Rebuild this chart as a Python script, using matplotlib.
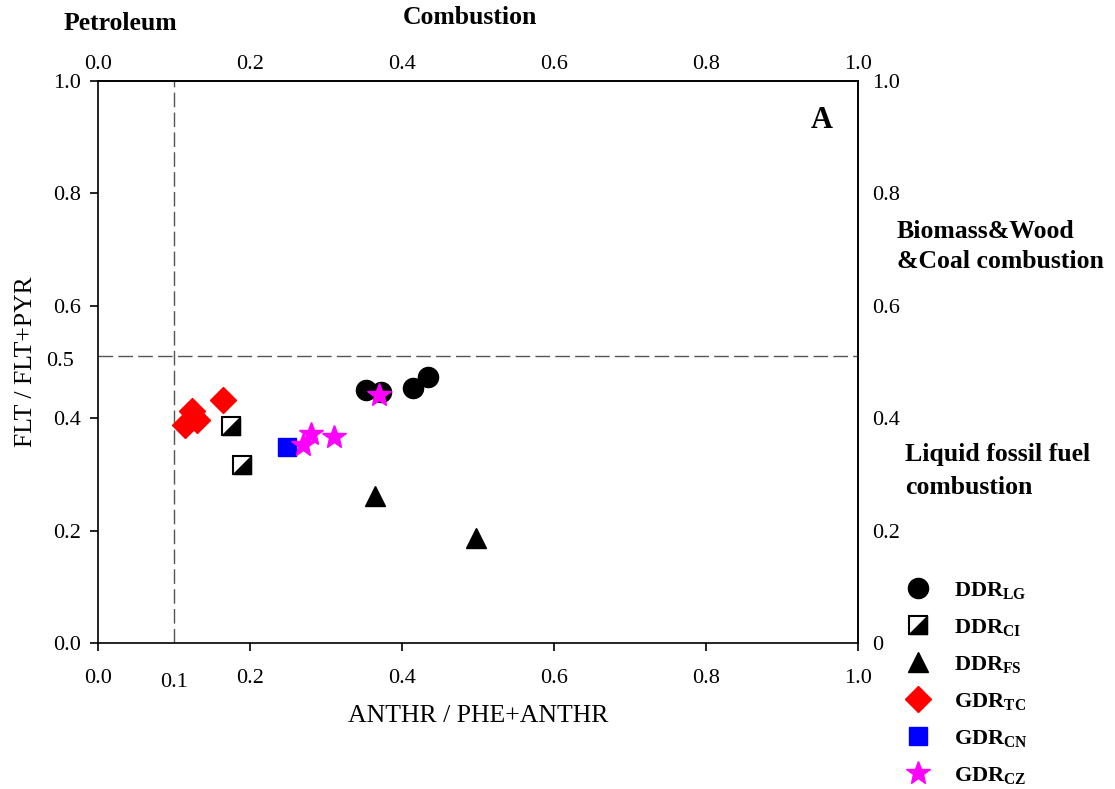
import matplotlib
matplotlib.use("Agg")
import matplotlib.pyplot as plt
from matplotlib.lines import Line2D
from matplotlib.legend_handler import HandlerTuple

plt.rcParams['font.family'] = ['Liberation Serif', 'DejaVu Serif']
plt.rcParams['mathtext.fontset'] = 'custom'
plt.rcParams['mathtext.rm'] = 'Liberation Serif'
plt.rcParams['mathtext.bf'] = 'Liberation Serif:bold'
plt.rcParams['mathtext.it'] = 'Liberation Serif:italic'

# ---------------- data ----------------
lg_x = [0.352, 0.373, 0.414, 0.434]
lg_y = [0.451, 0.446, 0.454, 0.473]

ci_x = [0.175, 0.190]
ci_y = [0.386, 0.317]

fs_x = [0.364, 0.497]
fs_y = [0.262, 0.186]

tc_x = [0.114, 0.130, 0.124, 0.164]
tc_y = [0.388, 0.397, 0.412, 0.432]

cn_x = [0.249]
cn_y = [0.348]

cz_x = [0.270, 0.280, 0.311, 0.370]
cz_y = [0.352, 0.372, 0.366, 0.441]

series_labels = [r'$\mathbf{DDR}_{\mathbf{LG}}$', r'$\mathbf{DDR}_{\mathbf{CI}}$',
                 r'$\mathbf{DDR}_{\mathbf{FS}}$', r'$\mathbf{GDR}_{\mathbf{TC}}$',
                 r'$\mathbf{GDR}_{\mathbf{CN}}$', r'$\mathbf{GDR}_{\mathbf{CZ}}$']

xticks = [0.0, 0.2, 0.4, 0.6, 0.8, 1.0]
xticklabels = ['0.0', '0.2', '0.4', '0.6', '0.8', '1.0']
yticks = [0.0, 0.2, 0.4, 0.6, 0.8, 1.0]
yticklabels = ['0.0', '0.2', '0.4', '0.6', '0.8', '1.0']
right_yticklabels = ['0', '0.2', '0.4', '0.6', '0.8', '1.0']

x_threshold = 0.1
y_threshold = 0.51

# ---------------- figure ----------------
W, H = 1115, 789
fig = plt.figure(figsize=(W / 100, H / 100), dpi=100)
ax = fig.add_axes([98 / W, 1 - 643 / H, 760 / W, 562 / H])
ax.set_xlim(0, 1)
ax.set_ylim(0, 1)

for s in ax.spines.values():
    s.set_linewidth(1.2)
    s.set_color('black')

# threshold lines
dash = (0, (10.5, 3.8))
ax.axvline(x_threshold, color='#555555', lw=1.0, ls=dash, zorder=1)
ax.axhline(y_threshold, color='#555555', lw=1.0, ls=dash, zorder=1)

# points
ax.plot(lg_x, lg_y, 'o', ms=14.5, mfc='black', mec='black', ls='none', zorder=3)
ci_sq, = ax.plot(ci_x, ci_y, 's', ms=13, mfc='white', mec='black', mew=1.5, ls='none', zorder=3)
tri_marker = [(-1, -1), (1, -1), (1, 1), (-1, -1)]
ci_tri, = ax.plot(ci_x, ci_y, marker=tri_marker, ms=13, mfc='black', mec='black', mew=1.0,
                  ls='none', zorder=3)
fs_h, = ax.plot(fs_x, fs_y, '^', ms=15, mfc='black', mec='black', ls='none', zorder=3)
tc_h, = ax.plot(tc_x, tc_y, 'D', ms=13.5, mfc='red', mec='red', ls='none', zorder=3)
cn_h, = ax.plot(cn_x, cn_y, 's', ms=13, mfc='blue', mec='blue', ls='none', zorder=3)
cz_h, = ax.plot(cz_x, cz_y, '*', ms=18, mfc='magenta', mec='magenta', ls='none', zorder=4)

# ticks
ax.set_xticks(xticks)
ax.set_xticklabels(xticklabels)
ax.set_yticks(yticks)
ax.set_yticklabels(yticklabels)
ax.tick_params(axis='both', direction='out', length=6, width=1.2, labelsize=16, colors='black')
ax.tick_params(axis='x', pad=13)
ax.tick_params(axis='y', pad=6)

ax.text(0.1, -0.07, '0.1', transform=ax.transAxes, ha='center', va='center', fontsize=16)
ax.text(-0.032, 0.50, '0.5', transform=ax.transAxes, ha='right', va='center', fontsize=16)

top = ax.secondary_xaxis('top')
top.set_xticks(xticks)
top.set_xticklabels(xticklabels)
top.tick_params(length=0, labelsize=16, pad=5)
top.spines['top'].set_linewidth(1.2)

right = ax.secondary_yaxis('right')
right.set_yticks(yticks)
right.set_yticklabels(right_yticklabels)
right.tick_params(length=0, labelsize=16, pad=10)
right.spines['right'].set_linewidth(1.2)

ax.set_xlabel('ANTHR / PHE+ANTHR', fontsize=18.5, labelpad=12)
ax.set_ylabel('FLT / FLT+PYR', fontsize=18.5, labelpad=12)

# annotations
def ftext(px, py, s, **kw):
    fig.text(px / W, 1 - py / H, s, **kw)

bsz = 18.5
ftext(120, 24, 'Petroleum', ha='center', va='center', fontsize=bsz, fontweight='bold')
ftext(470, 17, 'Combustion', ha='center', va='center', fontsize=bsz, fontweight='bold')
ftext(822, 120, 'A', ha='center', va='center', fontsize=22, fontweight='bold')
ftext(897, 231, 'Biomass&Wood', ha='left', va='center', fontsize=bsz, fontweight='bold')
ftext(897, 262, '&Coal combustion', ha='left', va='center', fontsize=bsz, fontweight='bold')
ftext(905, 455, 'Liquid fossil fuel', ha='left', va='center', fontsize=bsz, fontweight='bold')
ftext(905, 487, 'combustion', ha='left', va='center', fontsize=bsz, fontweight='bold')

# legend
lg_leg = Line2D([], [], marker='o', ms=14.5, mfc='black', mec='black', ls='none')
handles = [lg_leg, (ci_sq, ci_tri), fs_h, tc_h, cn_h, cz_h]
leg = fig.legend(handles, series_labels, loc='upper left',
                 bbox_to_anchor=(902 / W, 1 - 580 / H), frameon=False,
                 fontsize=16, borderaxespad=0, borderpad=0,
                 handlelength=1.4, handletextpad=0.95, labelspacing=0.72,
                 numpoints=1, handler_map={tuple: HandlerTuple(ndivide=1, pad=0)})

fig.savefig('out.png', dpi=100)
